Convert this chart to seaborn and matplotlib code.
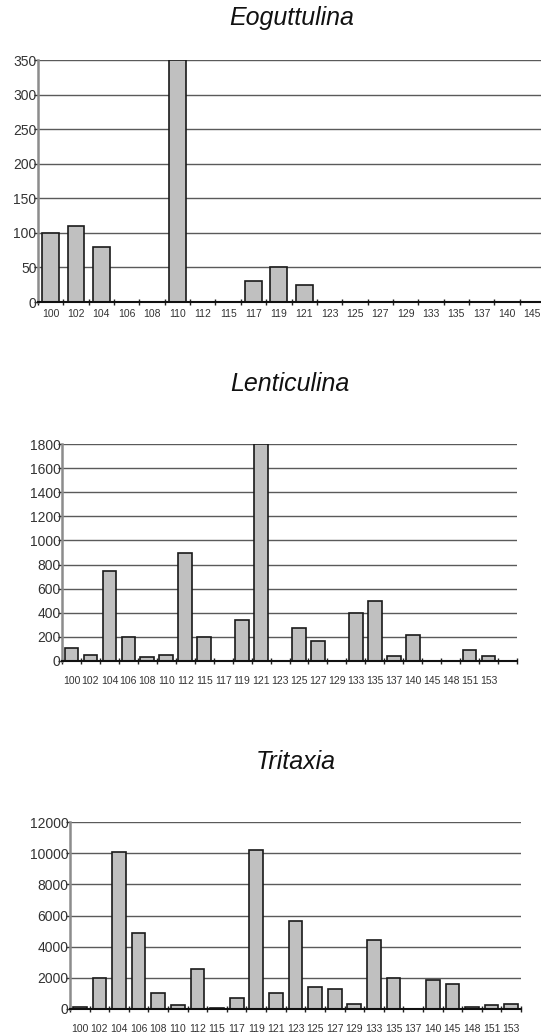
import matplotlib
matplotlib.use("Agg")
import matplotlib.pyplot as plt
import seaborn as sns
import numpy as np
import pandas as pd
from matplotlib.ticker import FixedLocator

sns.set_theme(style="white")
plt.rcParams['font.family'] = ['Liberation Sans', 'DejaVu Sans']

# ---- data ----
eog_labels = ["100", "102", "104", "106", "108", "110", "112", "115", "117", "119",
              "121", "123", "125", "127", "129", "133", "135", "137", "140", "145"]
eog_values = [100, 110, 80, 0, 0, 350, 0, 0, 30, 50,
              25, 0, 0, 0, 0, 0, 0, 0, 0, 0]
eog_yticks = [0, 50, 100, 150, 200, 250, 300, 350]

len_labels = ["100", "102", "104", "106", "108", "110", "112", "115", "117", "119",
              "121", "123", "125", "127", "129", "133", "135", "137", "140", "145",
              "148", "151", "153", " "]
len_values = [110, 50, 750, 200, 30, 50, 900, 200, 0, 340,
              1800, 0, 270, 165, 0, 400, 500, 40, 215, 0,
              0, 95, 40, 0]
len_yticks = [0, 200, 400, 600, 800, 1000, 1200, 1400, 1600, 1800]

tri_labels = ["100", "102", "104", "106", "108", "110", "112", "115", "117", "119",
              "121", "123", "125", "127", "129", "133", "135", "137", "140", "145",
              "148", "151", "153"]
tri_values = [150, 2000, 10050, 4850, 1050, 230, 2550, 80, 700, 10200,
              1050, 5650, 1400, 1300, 320, 4450, 2000, 20, 1850, 1600,
              100, 230, 330]
tri_yticks = [0, 2000, 4000, 6000, 8000, 10000, 12000]

W, H = 541, 1036
fig = plt.figure(figsize=(W / 100, H / 100), dpi=100)
fig.patch.set_facecolor('white')


def px_axes(left, top, right, bottom):
    return fig.add_axes([left / W, 1 - bottom / H, (right - left) / W, (bottom - top) / H])


def panel(ax, labels, values, yticks, title, title_y, xfs, xpad, bar_w):
    df = pd.DataFrame({"sample": labels, "count": values})
    sns.barplot(data=df, x="sample", y="count", order=labels, color="#c0c0c0",
                saturation=1, edgecolor="#1a1a1a", linewidth=1.2, width=bar_w, ax=ax, zorder=3)
    n = len(labels)
    ax.set_xlim(-0.5, n - 0.5)
    ax.set_ylim(yticks[0], yticks[-1])
    ax.set_yticks(yticks)
    ax.set_xlabel("")
    ax.set_ylabel("")
    ax.set_facecolor('white')
    for s in ["top", "right"]:
        ax.spines[s].set_visible(False)
    ax.spines["left"].set_color("#8c8c8c")
    ax.spines["left"].set_linewidth(1.8)
    ax.spines["bottom"].set_color("#111111")
    ax.spines["bottom"].set_linewidth(1.5)
    for s in ["left", "bottom"]:
        ax.spines[s].set_zorder(4)
    ax.yaxis.grid(True, color="#5a5a5a", linewidth=1.0, zorder=0)
    ax.set_axisbelow(True)
    ax.tick_params(axis="y", direction="out", length=3, width=1, color="#333333",
                   labelsize=10, pad=-2, left=True, labelcolor="#333333")
    ax.tick_params(axis="x", which="major", length=0, labelsize=xfs, pad=xpad,
                   labelcolor="#333333")
    ax.xaxis.set_minor_locator(FixedLocator(np.arange(-0.5, n, 1.0)))
    ax.tick_params(axis="x", which="minor", direction="inout", length=5, width=1,
                   color="#222222", bottom=True)
    pos = ax.get_position()
    cx = (pos.x0 + pos.x1) / 2
    fig.text(cx, 1 - title_y / H, title, ha="center", va="center",
             fontsize=18, style="italic", color="#111111")


ax1 = px_axes(38, 60, 545, 302)
panel(ax1, eog_labels, eog_values, eog_yticks, "Eoguttulina", 18, 7.5, 5, 0.66)

ax2 = px_axes(62, 444, 517, 661)
panel(ax2, len_labels, len_values, len_yticks, "Lenticulina", 384, 7.5, 11, 0.72)

ax3 = px_axes(70, 822, 521, 1009)
panel(ax3, tri_labels, tri_values, tri_yticks, "Tritaxia", 762, 7.5, 11, 0.70)

fig.savefig("out.png", dpi=100, facecolor="white")
